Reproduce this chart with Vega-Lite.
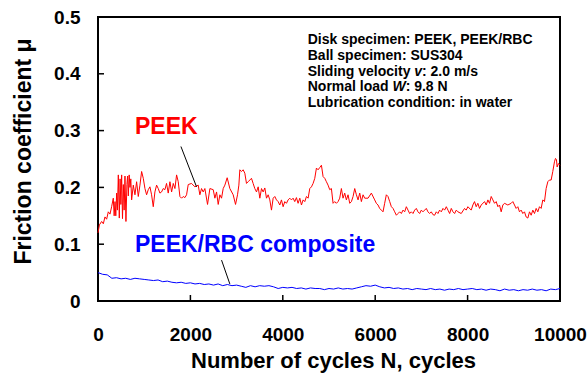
{
  "$schema": "https://vega.github.io/schema/vega-lite/v6.json",
  "width": 462,
  "height": 284,
  "autosize": {"type": "none"},
  "padding": {"left": 98, "top": 17, "right": 28, "bottom": 74},
  "config": {
    "font": "Liberation Sans",
    "view": {"stroke": "black", "strokeWidth": 2},
    "axis": {"grid": false, "domain": false, "ticks": false, "labelColor": "black", "titleColor": "black", "labelFont": "Liberation Sans", "titleFont": "Liberation Sans", "labelFontWeight": "bold", "titleFontWeight": "bold", "labelFlush": false}
  },
  "datasets": {
    "peek": [
      {"N":0,"mu":0.120},{"N":30,"mu":0.134},{"N":79,"mu":0.140},{"N":115,"mu":0.136},{"N":151,"mu":0.148},{"N":187,"mu":0.144},{"N":223,"mu":0.157},{"N":260,"mu":0.153},{"N":295,"mu":0.166},{"N":331,"mu":0.181},{"N":350,"mu":0.150},{"N":368,"mu":0.175},{"N":385,"mu":0.150},{"N":404,"mu":0.190},{"N":420,"mu":0.160},{"N":440,"mu":0.222},{"N":461,"mu":0.146},{"N":478,"mu":0.215},{"N":495,"mu":0.170},{"N":512,"mu":0.222},{"N":530,"mu":0.145},{"N":548,"mu":0.205},{"N":566,"mu":0.160},{"N":584,"mu":0.220},{"N":605,"mu":0.140},{"N":625,"mu":0.205},{"N":641,"mu":0.220},{"N":656,"mu":0.185},{"N":675,"mu":0.222},{"N":692,"mu":0.200},{"N":710,"mu":0.215},{"N":728,"mu":0.178},{"N":764,"mu":0.204},{"N":800,"mu":0.187},{"N":836,"mu":0.210},{"N":872,"mu":0.184},{"N":908,"mu":0.204},{"N":944,"mu":0.228},{"N":980,"mu":0.216},{"N":1016,"mu":0.198},{"N":1052,"mu":0.187},{"N":1088,"mu":0.196},{"N":1124,"mu":0.201},{"N":1160,"mu":0.187},{"N":1196,"mu":0.166},{"N":1232,"mu":0.192},{"N":1268,"mu":0.204},{"N":1304,"mu":0.198},{"N":1340,"mu":0.190},{"N":1376,"mu":0.192},{"N":1412,"mu":0.198},{"N":1448,"mu":0.196},{"N":1484,"mu":0.207},{"N":1520,"mu":0.190},{"N":1557,"mu":0.210},{"N":1593,"mu":0.192},{"N":1629,"mu":0.207},{"N":1665,"mu":0.198},{"N":1701,"mu":0.222},{"N":1737,"mu":0.210},{"N":1773,"mu":0.184},{"N":1809,"mu":0.181},{"N":1845,"mu":0.184},{"N":1881,"mu":0.182},{"N":1917,"mu":0.187},{"N":1953,"mu":0.205},
      {"N":2025,"mu":0.207},{"N":2097,"mu":0.201},{"N":2169,"mu":0.204},{"N":2205,"mu":0.187},{"N":2241,"mu":0.198},{"N":2277,"mu":0.192},{"N":2313,"mu":0.198},{"N":2371,"mu":0.170},{"N":2422,"mu":0.198},{"N":2494,"mu":0.196},{"N":2530,"mu":0.181},{"N":2566,"mu":0.192},{"N":2602,"mu":0.170},{"N":2638,"mu":0.187},{"N":2674,"mu":0.181},{"N":2710,"mu":0.198},{"N":2746,"mu":0.204},{"N":2796,"mu":0.217},{"N":2854,"mu":0.198},{"N":2926,"mu":0.187},{"N":2977,"mu":0.170},{"N":3020,"mu":0.187},{"N":3049,"mu":0.204},{"N":3070,"mu":0.231},{"N":3106,"mu":0.228},{"N":3142,"mu":0.231},{"N":3178,"mu":0.225},{"N":3214,"mu":0.207},{"N":3250,"mu":0.210},{"N":3286,"mu":0.213},{"N":3322,"mu":0.216},{"N":3358,"mu":0.207},{"N":3394,"mu":0.198},{"N":3431,"mu":0.192},{"N":3467,"mu":0.201},{"N":3503,"mu":0.181},{"N":3539,"mu":0.198},{"N":3575,"mu":0.192},{"N":3611,"mu":0.199},{"N":3647,"mu":0.181},{"N":3683,"mu":0.187},{"N":3719,"mu":0.178},{"N":3755,"mu":0.160},{"N":3791,"mu":0.181},{"N":3827,"mu":0.184},{"N":3863,"mu":0.178},{"N":3899,"mu":0.175},{"N":3935,"mu":0.169},
      {"N":3971,"mu":0.178},{"N":4007,"mu":0.166},{"N":4043,"mu":0.175},{"N":4079,"mu":0.172},{"N":4115,"mu":0.178},{"N":4151,"mu":0.181},{"N":4187,"mu":0.178},{"N":4223,"mu":0.181},{"N":4259,"mu":0.175},{"N":4295,"mu":0.182},{"N":4331,"mu":0.172},{"N":4368,"mu":0.181},{"N":4404,"mu":0.169},{"N":4440,"mu":0.178},{"N":4476,"mu":0.175},{"N":4512,"mu":0.184},{"N":4548,"mu":0.181},{"N":4584,"mu":0.198},{"N":4620,"mu":0.201},{"N":4656,"mu":0.207},{"N":4692,"mu":0.216},{"N":4728,"mu":0.234},{"N":4764,"mu":0.231},{"N":4800,"mu":0.235},{"N":4836,"mu":0.239},{"N":4872,"mu":0.219},{"N":4908,"mu":0.216},{"N":4944,"mu":0.210},{"N":4980,"mu":0.204},{"N":5016,"mu":0.196},{"N":5052,"mu":0.198},{"N":5088,"mu":0.172},{"N":5124,"mu":0.175},{"N":5160,"mu":0.172},{"N":5196,"mu":0.175},{"N":5232,"mu":0.181},{"N":5268,"mu":0.198},{"N":5304,"mu":0.181},{"N":5340,"mu":0.190},{"N":5376,"mu":0.178},{"N":5412,"mu":0.187},{"N":5449,"mu":0.172},{"N":5485,"mu":0.175},{"N":5521,"mu":0.184},{"N":5557,"mu":0.198},{"N":5593,"mu":0.187},{"N":5629,"mu":0.178},{"N":5665,"mu":0.190},{"N":5701,"mu":0.175},{"N":5737,"mu":0.187},{"N":5773,"mu":0.181},
      {"N":5845,"mu":0.181},{"N":5917,"mu":0.190},{"N":5989,"mu":0.178},{"N":6025,"mu":0.172},{"N":6061,"mu":0.169},{"N":6097,"mu":0.163},{"N":6133,"mu":0.160},{"N":6169,"mu":0.157},{"N":6205,"mu":0.172},{"N":6241,"mu":0.187},{"N":6277,"mu":0.184},{"N":6314,"mu":0.175},{"N":6350,"mu":0.166},{"N":6386,"mu":0.163},{"N":6422,"mu":0.157},{"N":6458,"mu":0.151},{"N":6494,"mu":0.154},{"N":6530,"mu":0.157},{"N":6566,"mu":0.154},{"N":6602,"mu":0.160},{"N":6638,"mu":0.157},{"N":6674,"mu":0.166},{"N":6710,"mu":0.160},{"N":6746,"mu":0.154},{"N":6782,"mu":0.157},{"N":6818,"mu":0.154},{"N":6854,"mu":0.160},{"N":6890,"mu":0.163},{"N":6926,"mu":0.157},{"N":6962,"mu":0.154},{"N":6998,"mu":0.160},{"N":7034,"mu":0.157},{"N":7070,"mu":0.160},{"N":7106,"mu":0.163},{"N":7142,"mu":0.157},{"N":7178,"mu":0.154},{"N":7214,"mu":0.157},{"N":7250,"mu":0.152},{"N":7286,"mu":0.151},{"N":7322,"mu":0.157},{"N":7358,"mu":0.154},{"N":7394,"mu":0.160},{"N":7431,"mu":0.157},{"N":7467,"mu":0.163},{"N":7503,"mu":0.160},{"N":7539,"mu":0.166},{"N":7575,"mu":0.160},{"N":7611,"mu":0.154},{"N":7647,"mu":0.163},{"N":7683,"mu":0.157},{"N":7719,"mu":0.154},{"N":7755,"mu":0.160},{"N":7791,"mu":0.157},
      {"N":7862,"mu":0.154},{"N":7934,"mu":0.163},{"N":7970,"mu":0.160},{"N":8006,"mu":0.166},{"N":8078,"mu":0.160},{"N":8114,"mu":0.169},{"N":8150,"mu":0.175},{"N":8186,"mu":0.166},{"N":8222,"mu":0.172},{"N":8258,"mu":0.163},{"N":8295,"mu":0.169},{"N":8367,"mu":0.175},{"N":8403,"mu":0.169},{"N":8439,"mu":0.178},{"N":8475,"mu":0.172},{"N":8511,"mu":0.184},{"N":8547,"mu":0.178},{"N":8583,"mu":0.172},{"N":8619,"mu":0.175},{"N":8655,"mu":0.166},{"N":8691,"mu":0.169},{"N":8727,"mu":0.157},{"N":8763,"mu":0.169},{"N":8799,"mu":0.172},{"N":8871,"mu":0.169},{"N":8943,"mu":0.172},{"N":8979,"mu":0.175},{"N":9015,"mu":0.169},{"N":9051,"mu":0.163},{"N":9087,"mu":0.166},{"N":9123,"mu":0.157},{"N":9159,"mu":0.160},{"N":9195,"mu":0.154},{"N":9231,"mu":0.157},{"N":9267,"mu":0.148},{"N":9304,"mu":0.146},{"N":9340,"mu":0.157},{"N":9376,"mu":0.151},{"N":9412,"mu":0.160},{"N":9448,"mu":0.154},{"N":9484,"mu":0.163},{"N":9520,"mu":0.157},{"N":9556,"mu":0.166},{"N":9592,"mu":0.163},{"N":9628,"mu":0.178},{"N":9664,"mu":0.175},{"N":9700,"mu":0.198},{"N":9736,"mu":0.210},{"N":9772,"mu":0.213},{"N":9808,"mu":0.213},{"N":9844,"mu":0.228},{"N":9880,"mu":0.245},{"N":9902,"mu":0.251},{"N":9923,"mu":0.249},{"N":9938,"mu":0.236},{"N":9966,"mu":0.242},{"N":10000,"mu":0.239}
    ],
    "rbc": [
      {"N":0,"mu":0.050},{"N":100,"mu":0.047},{"N":200,"mu":0.046},{"N":300,"mu":0.040},{"N":400,"mu":0.041},{"N":500,"mu":0.039},{"N":600,"mu":0.040},{"N":700,"mu":0.038},{"N":800,"mu":0.040},{"N":900,"mu":0.039},{"N":1000,"mu":0.038},{"N":1100,"mu":0.037},{"N":1200,"mu":0.036},{"N":1300,"mu":0.037},{"N":1400,"mu":0.034},{"N":1500,"mu":0.035},{"N":1600,"mu":0.033},{"N":1700,"mu":0.032},{"N":1800,"mu":0.033},{"N":1900,"mu":0.031},{"N":2000,"mu":0.032},{"N":2100,"mu":0.030},{"N":2200,"mu":0.031},{"N":2300,"mu":0.029},{"N":2400,"mu":0.030},{"N":2500,"mu":0.028},{"N":2600,"mu":0.030},{"N":2700,"mu":0.027},{"N":2800,"mu":0.029},{"N":2900,"mu":0.027},{"N":3000,"mu":0.028},{"N":3100,"mu":0.026},{"N":3200,"mu":0.024},{"N":3300,"mu":0.027},{"N":3400,"mu":0.025},{"N":3500,"mu":0.027},{"N":3600,"mu":0.026},{"N":3700,"mu":0.027},{"N":3800,"mu":0.025},{"N":3900,"mu":0.022},{"N":4000,"mu":0.024},{"N":4100,"mu":0.023},{"N":4200,"mu":0.024},{"N":4300,"mu":0.022},{"N":4400,"mu":0.023},{"N":4500,"mu":0.021},{"N":4600,"mu":0.023},{"N":4700,"mu":0.022},{"N":4800,"mu":0.022},{"N":4900,"mu":0.020},{"N":5000,"mu":0.022},{"N":5100,"mu":0.021},{"N":5200,"mu":0.023},{"N":5300,"mu":0.021},{"N":5400,"mu":0.022},{"N":5500,"mu":0.021},{"N":5600,"mu":0.023},{"N":5700,"mu":0.025},{"N":5800,"mu":0.027},{"N":5900,"mu":0.026},{"N":6000,"mu":0.028},{"N":6100,"mu":0.025},{"N":6200,"mu":0.023},{"N":6300,"mu":0.024},{"N":6400,"mu":0.022},{"N":6500,"mu":0.023},{"N":6600,"mu":0.021},{"N":6700,"mu":0.022},{"N":6800,"mu":0.020},{"N":6900,"mu":0.022},{"N":7000,"mu":0.021},{"N":7100,"mu":0.020},{"N":7200,"mu":0.022},{"N":7300,"mu":0.020},{"N":7400,"mu":0.021},{"N":7500,"mu":0.019},{"N":7600,"mu":0.021},{"N":7700,"mu":0.020},{"N":7800,"mu":0.022},{"N":7900,"mu":0.020},{"N":8000,"mu":0.021},{"N":8100,"mu":0.022},{"N":8200,"mu":0.020},{"N":8300,"mu":0.021},{"N":8400,"mu":0.019},{"N":8500,"mu":0.021},{"N":8600,"mu":0.020},{"N":8700,"mu":0.018},{"N":8800,"mu":0.021},{"N":8900,"mu":0.019},{"N":9000,"mu":0.020},{"N":9100,"mu":0.018},{"N":9200,"mu":0.020},{"N":9300,"mu":0.019},{"N":9400,"mu":0.021},{"N":9500,"mu":0.019},{"N":9600,"mu":0.020},{"N":9700,"mu":0.018},{"N":9800,"mu":0.021},{"N":9900,"mu":0.020},{"N":10000,"mu":0.022}
    ],
    "xticks": [{"N":2000,"mu":0},{"N":4000,"mu":0},{"N":6000,"mu":0},{"N":8000,"mu":0}],
    "yticks": [{"N":0,"mu":0.1},{"N":0,"mu":0.2},{"N":0,"mu":0.3},{"N":0,"mu":0.4}],
    "leaders": [
      {"N":1795,"mu":0.272,"N2":2133,"mu2":0.201},
      {"N":2674,"mu":0.072,"N2":2854,"mu2":0.030}
    ],
    "info": [
      {"t":"Disk specimen: PEEK, PEEK/RBC","N":4540,"mu":0.4595},
      {"t":"Ball specimen: SUS304","N":4540,"mu":0.4317},
      {"t":"Sliding velocity","N":4540,"mu":0.4039},
      {"t":": 2.0 m/s","N":7013,"mu":0.4039},
      {"t":"Normal load","N":4540,"mu":0.3761},
      {"t":": 9.8 N","N":6659,"mu":0.3761},
      {"t":"Lubrication condition: in water","N":4540,"mu":0.3482}
    ],
    "infoItalic": [
      {"t":"v","N":6845,"mu":0.4039},
      {"t":"W","N":6373,"mu":0.3761}
    ]
  },
  "encoding": {
    "x": {
      "field": "N", "type": "quantitative",
      "scale": {"domain": [0, 10000], "nice": false, "zero": false},
      "axis": {"values": [0, 2000, 4000, 6000, 8000, 10000], "format": "d", "labelFontSize": 19, "labelPadding": 24, "title": "Number of cycles  N, cycles", "titleFontSize": 22, "titlePadding": 6, "titleX": 235}
    },
    "y": {
      "field": "mu", "type": "quantitative",
      "scale": {"domain": [0, 0.5], "nice": false},
      "axis": {"values": [0, 0.1, 0.2, 0.3, 0.4, 0.5], "labelExpr": "datum.value == 0 ? '0' : format(datum.value, '.1f')", "labelFontSize": 19, "labelPadding": 18, "title": "Friction coefficient μ", "titleFontSize": 23, "titlePadding": 18, "titleY": 134}
    }
  },
  "layer": [
    {"data": {"name": "peek"}, "mark": {"type": "line", "color": "#ff0000", "strokeWidth": 1}},
    {"data": {"name": "rbc"}, "mark": {"type": "line", "color": "#0000ff", "strokeWidth": 1}},
    {"data": {"name": "xticks"}, "mark": {"type": "tick", "orient": "vertical", "color": "black", "size": 6, "thickness": 1.5, "yOffset": -3, "opacity": 1}},
    {"data": {"name": "yticks"}, "mark": {"type": "tick", "orient": "horizontal", "color": "black", "size": 6, "thickness": 1.5, "xOffset": 3, "opacity": 1}},
    {"data": {"name": "leaders"}, "mark": {"type": "rule", "color": "black", "strokeWidth": 1}, "encoding": {"x2": {"field": "N2"}, "y2": {"field": "mu2"}}},
    {"data": {"values": [{"t": "PEEK", "N": 800, "mu": 0.307}]}, "mark": {"type": "text", "color": "#ff0000", "fontSize": 23, "fontWeight": "bold", "align": "left", "baseline": "middle"}, "encoding": {"text": {"field": "t"}}},
    {"data": {"values": [{"t": "PEEK/RBC composite", "N": 800, "mu": 0.099}]}, "mark": {"type": "text", "color": "#0000ff", "fontSize": 23, "fontWeight": "bold", "align": "left", "baseline": "middle"}, "encoding": {"text": {"field": "t"}}},
    {"data": {"name": "info"}, "mark": {"type": "text", "color": "black", "fontSize": 14, "fontWeight": "bold", "align": "left", "baseline": "middle"}, "encoding": {"text": {"field": "t"}}},
    {"data": {"name": "infoItalic"}, "mark": {"type": "text", "color": "black", "fontSize": 14, "fontWeight": "bold", "fontStyle": "italic", "align": "left", "baseline": "middle"}, "encoding": {"text": {"field": "t"}}}
  ]
}
